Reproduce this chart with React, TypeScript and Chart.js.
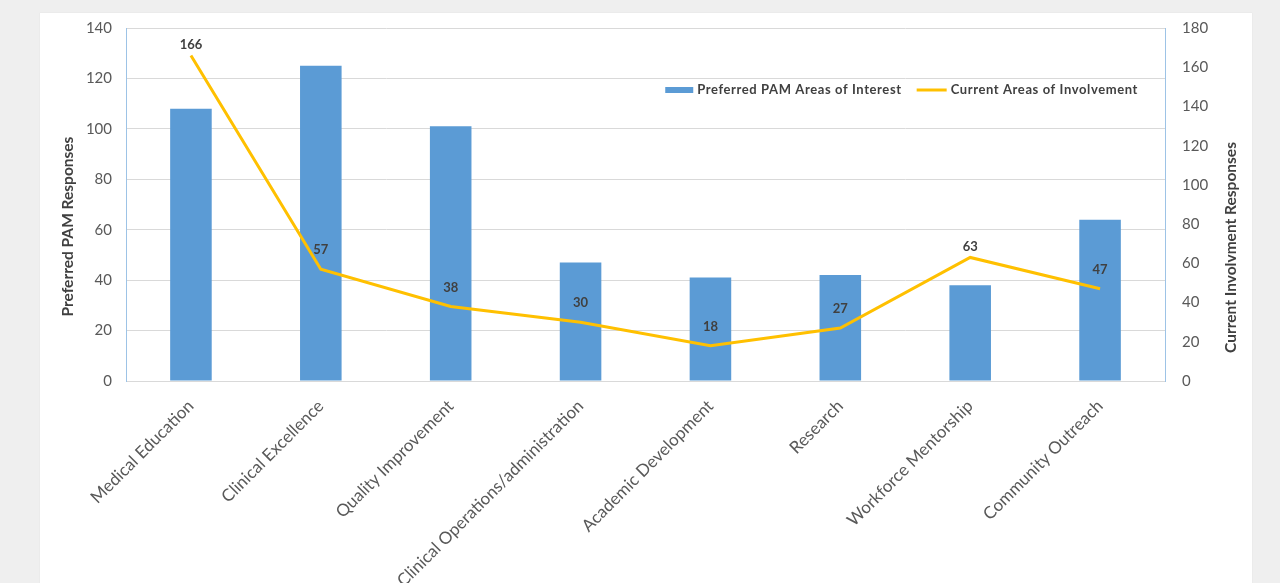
import React, { useEffect, useRef } from "react";
import { Chart, registerables } from "chart.js";

Chart.register(...registerables);

const categories = [
  "Medical Education",
  "Clinical Excellence",
  "Quality Improvement",
  "Clinical Operations/administration",
  "Academic Development",
  "Research",
  "Workforce Mentorship",
  "Community Outreach",
];
const preferredValues = [108, 125, 101, 47, 41, 42, 38, 64];
const currentValues = [166, 57, 38, 30, 18, 27, 63, 47];
const preferredLabel = "Preferred PAM Areas of Interest";
const currentLabel = "Current Areas of Involvement";
const leftTitle = "Preferred PAM Responses";
const rightTitle = "Current Involvment Responses";

const FONT = "Lato, 'Open Sans', sans-serif";
const BLUE = "#5b9bd5";
const GOLD = "#ffc000";

const dataLabelPlugin = {
  id: "lineLabels",
  afterDatasetsDraw(chart: any) {
    const meta = chart.getDatasetMeta(0);
    const ctx = chart.ctx;
    ctx.save();
    ctx.font = `bold 13px ${FONT}`;
    ctx.fillStyle = "#404040";
    ctx.textAlign = "center";
    ctx.textBaseline = "middle";
    const vals = currentValues;
    meta.data.forEach((pt: any, i: number) => {
      const prev = i > 0 ? vals[i - 1] : -Infinity;
      const next = i < vals.length - 1 ? vals[i + 1] : -Infinity;
      const peak = vals[i] > prev && vals[i] > next;
      const off = peak ? 11 : 19;
      ctx.fillText(String(vals[i]), pt.x, pt.y - off);
    });
    ctx.restore();
  },
};

const titlesPlugin = {
  id: "axisTitles",
  afterDraw(chart: any) {
    const { ctx, chartArea } = chart;
    ctx.save();
    ctx.font = `bold 15.5px ${FONT}`;
    ctx.fillStyle = "#404040";
    ctx.textAlign = "center";
    ctx.textBaseline = "middle";
    const midY = (chartArea.top + chartArea.bottom) / 2;
    ctx.translate(chartArea.left - 58, midY + 22);
    ctx.rotate(-Math.PI / 2);
    ctx.fillText(leftTitle, 0, 0);
    ctx.restore();
    ctx.save();
    ctx.font = `bold 15.5px ${FONT}`;
    ctx.fillStyle = "#404040";
    ctx.textAlign = "center";
    ctx.textBaseline = "middle";
    ctx.translate(chartArea.right + 66, midY + 43);
    ctx.rotate(-Math.PI / 2);
    ctx.fillText(rightTitle, 0, 0);
    ctx.restore();
  },
};

const legendPlugin = {
  id: "innerLegend",
  afterDraw(chart: any) {
    const { ctx, chartArea } = chart;
    ctx.save();
    ctx.font = `bold 13px ${FONT}`;
    (ctx as any).letterSpacing = "0.6px";
    ctx.textBaseline = "middle";
    ctx.textAlign = "left";
    const y = chartArea.top + 62;
    const w1 = ctx.measureText(preferredLabel).width;
    const w2 = ctx.measureText(currentLabel).width;
    const right = chartArea.right - 27;
    const x2Text = right - w2;
    const x2Sym = x2Text - 34;
    const x1Text = x2Sym - 15 - w1;
    const x1Sym = x1Text - 32;
    ctx.fillStyle = BLUE;
    ctx.fillRect(x1Sym, y - 3, 28, 6);
    ctx.strokeStyle = GOLD;
    ctx.lineWidth = 3;
    ctx.beginPath();
    ctx.moveTo(x2Sym, y);
    ctx.lineTo(x2Sym + 30, y);
    ctx.stroke();
    ctx.fillStyle = "#404040";
    ctx.fillText(preferredLabel, x1Text, y);
    ctx.fillText(currentLabel, x2Text, y);
    ctx.restore();
  },
};

export default function App() {
  const ref = useRef<HTMLCanvasElement>(null);
  useEffect(() => {
    if (!ref.current) return;
    const tickFont = { family: FONT, size: 15 };
    const xFont = { family: FONT, size: 17 };
    const chart = new Chart(ref.current, {
      type: "bar",
      data: {
        labels: categories,
        datasets: [
          {
            type: "line",
            label: currentLabel,
            data: currentValues,
            yAxisID: "y1",
            borderColor: GOLD,
            borderWidth: 3,
            pointRadius: 0,
            tension: 0,
            fill: false,
            order: 0,
          } as any,
          {
            type: "bar",
            label: preferredLabel,
            data: preferredValues,
            yAxisID: "y",
            backgroundColor: BLUE,
            barPercentage: 0.32,
            categoryPercentage: 1,
            order: 1,
          },
        ],
      },
      options: {
        responsive: false,
        animation: false,
        layout: { padding: { left: 56, right: 36, top: 28, bottom: 0 } },
        plugins: { legend: { display: false }, tooltip: { enabled: false } },
        scales: {
          x: {
            grid: { display: false, drawTicks: false },
            border: { color: "#d9d9d9" },
            ticks: {
              minRotation: 45,
              maxRotation: 45,
              autoSkip: false,
              font: xFont,
              color: "#595959",
              padding: 15,
            },
            afterFit: (s: any) => {
              s.height = 202;
            },
          },
          y: {
            position: "left",
            min: 0,
            max: 140,
            ticks: { stepSize: 20, padding: 14, font: tickFont, color: "#595959" },
            grid: { color: "#d9d9d9", drawTicks: false },
            border: { color: "#9dc3e6" },
            afterFit: (s: any) => {
              s.width = 70;
            },
          },
          y1: {
            position: "right",
            min: 0,
            max: 180,
            ticks: { stepSize: 20, padding: 17, font: tickFont, color: "#595959" },
            grid: { display: false, drawTicks: false },
            border: { color: "#9dc3e6" },
            afterFit: (s: any) => {
              s.width = 79;
            },
          },
        },
      },
      plugins: [dataLabelPlugin, legendPlugin, titlesPlugin],
    });
    return () => chart.destroy();
  }, []);

  return (
    <div
      style={{
        position: "fixed",
        left: 0,
        top: 0,
        width: 1280,
        height: 583,
        background: "#efefef",
        overflow: "hidden",
      }}
    >
      <div
        style={{
          position: "absolute",
          left: 40,
          top: 13,
          width: 1212,
          height: 600,
          background: "#ffffff",
          boxShadow: "0 0 1px #d8d8d8",
        }}
      />
      <canvas
        ref={ref}
        width={1280}
        height={583}
        style={{ position: "absolute", left: 0, top: 0, width: 1280, height: 583 }}
      />
    </div>
  );
}
